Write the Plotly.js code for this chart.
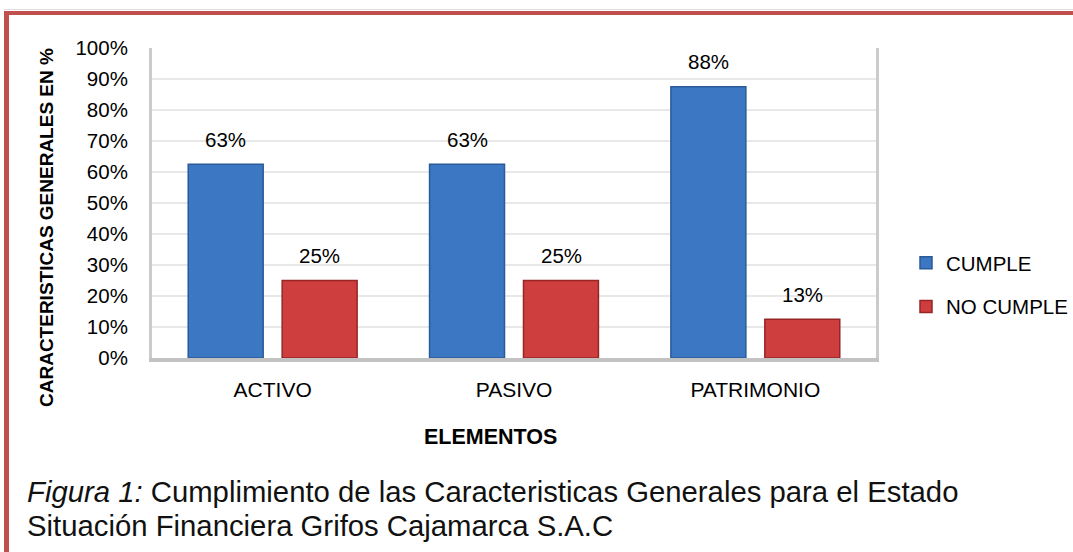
<!DOCTYPE html>
<html>
<head>
<meta charset="utf-8">
<script src="https://cdn.plot.ly/plotly-3.0.1.min.js"></script>
<style>
  html, body { margin: 0; padding: 0; background: #ffffff; }
  #wrap { position: relative; width: 1073px; height: 552px; overflow: hidden; }
  #chart { position: absolute; left: 0; top: 0; width: 1073px; height: 552px; }
  #frame { position: absolute; left: 4px; top: 11px; width: 1069px; height: 541px;
           border-top: 4px solid #c0504d; border-left: 5px solid #c0504d; box-sizing: border-box;
           pointer-events: none; }
  #thin { position: absolute; left: 4px; top: 9px; width: 1069px; height: 1px; background: #dddddd; pointer-events: none; }
</style>
</head>
<body>
<div id="wrap">
  <div id="chart"></div>
  <div id="thin"></div>
  <div id="frame"></div>
</div>
<script>
// ---- data ----
const categories = ['ACTIVO', 'PASIVO', 'PATRIMONIO'];
const cumpleValues = [62.5, 62.5, 87.5];
const noCumpleValues = [25, 25, 12.5];
const cumpleLabels = ['63%', '63%', '88%'];
const noCumpleLabels = ['25%', '25%', '13%'];
const seriesNames = ['CUMPLE', 'NO CUMPLE'];
const yTickValues = [0, 10, 20, 30, 40, 50, 60, 70, 80, 90, 100];
const yTickLabels = ['0%', '10%', '20%', '30%', '40%', '50%', '60%', '70%', '80%', '90%', '100%'];

const FONT = 'Liberation Sans, Arial, sans-serif';

const traces = [
  {
    type: 'bar', name: seriesNames[0], x: categories, y: cumpleValues,
    legendgroup: 'a',
    marker: { color: '#3b77c2', line: { color: '#2a5b98', width: 1.5 } },
    hoverinfo: 'none'
  },
  {
    type: 'bar', name: seriesNames[1], x: categories, y: noCumpleValues,
    legendgroup: 'b',
    marker: { color: '#cf3e3e', line: { color: '#962626', width: 1.5 } },
    hoverinfo: 'none'
  }
];

const annotations = [];
const SLOT_OFFSET = 47;
categories.forEach((c, i) => {
  annotations.push({ x: c, y: cumpleValues[i], xref: 'x', yref: 'y', text: cumpleLabels[i],
    showarrow: false, xshift: -SLOT_OFFSET, yshift: 25, yanchor: 'middle',
    font: { family: FONT, size: 20.5, color: '#000000' } });
  annotations.push({ x: c, y: noCumpleValues[i], xref: 'x', yref: 'y', text: noCumpleLabels[i],
    showarrow: false, xshift: SLOT_OFFSET, yshift: 25, yanchor: 'middle',
    font: { family: FONT, size: 20.5, color: '#000000' } });
});

// plot area: x 152..876, y 48..358
const px = v => (v - 152) / 724;
const py = v => (358 - v) / 310;

annotations.push({ xref: 'paper', yref: 'paper', x: px(47), y: py(228), text: '<b>CARACTERISTICAS GENERALES EN %</b>',
  textangle: -90, showarrow: false, xanchor: 'center', yanchor: 'middle',
  font: { family: FONT, size: 19, color: '#000000' } });
annotations.push({ xref: 'paper', yref: 'paper', x: px(490), y: py(437), text: '<b>ELEMENTOS</b>',
  showarrow: false, xanchor: 'center', yanchor: 'middle',
  font: { family: FONT, size: 21.5, color: '#000000' } });
annotations.push({ xref: 'paper', yref: 'paper', x: px(25), y: py(492),
  text: '<i>Figura 1:</i> Cumplimiento de las Caracteristicas Generales para el Estado',
  showarrow: false, xanchor: 'left', yanchor: 'middle', align: 'left',
  font: { family: FONT, size: 29.3, color: '#111111' } });
annotations.push({ xref: 'paper', yref: 'paper', x: px(25), y: py(525),
  text: 'Situación Financiera Grifos Cajamarca S.A.C',
  showarrow: false, xanchor: 'left', yanchor: 'middle', align: 'left',
  font: { family: FONT, size: 29.3, color: '#111111' } });

const layout = {
  width: 1073, height: 552,
  margin: { l: 152, r: 197, t: 48, b: 194, pad: 0, autoexpand: false },
  paper_bgcolor: '#ffffff', plot_bgcolor: '#ffffff',
  font: { family: FONT, size: 20, color: '#000000' },
  barmode: 'group', bargap: 0.2215, bargroupgap: 0.202,
  showlegend: true,
  legend: { xref: 'container', yref: 'container', x: 906 / 1073, y: 1 - 285 / 552,
            xanchor: 'left', yanchor: 'middle',
            font: { family: FONT, size: 20.5, color: '#000000' },
            tracegroupgap: 14, bgcolor: 'rgba(0,0,0,0)', traceorder: 'grouped' },
  xaxis: {
    type: 'category', showgrid: false, zeroline: false, automargin: false,
    showline: true, linecolor: '#c2c2c2', linewidth: 4,
    ticks: '', ticklabelstandoff: 10,
    tickfont: { family: FONT, size: 21, color: '#000000' },
    fixedrange: true
  },
  yaxis: {
    range: [0, 100], tickmode: 'array', tickvals: yTickValues, ticktext: yTickLabels,
    automargin: false,
    showgrid: true, gridcolor: '#e8e8e8', gridwidth: 2, zeroline: false,
    showline: true, mirror: true, linecolor: '#cbcbcb', linewidth: 3,
    ticks: '', ticklabelstandoff: 17,
    tickfont: { family: FONT, size: 20.5, color: '#000000' },
    fixedrange: true
  },
  annotations: annotations
};

Plotly.newPlot('chart', traces, layout, { displayModeBar: false, staticPlot: true });
</script>
</body>
</html>
